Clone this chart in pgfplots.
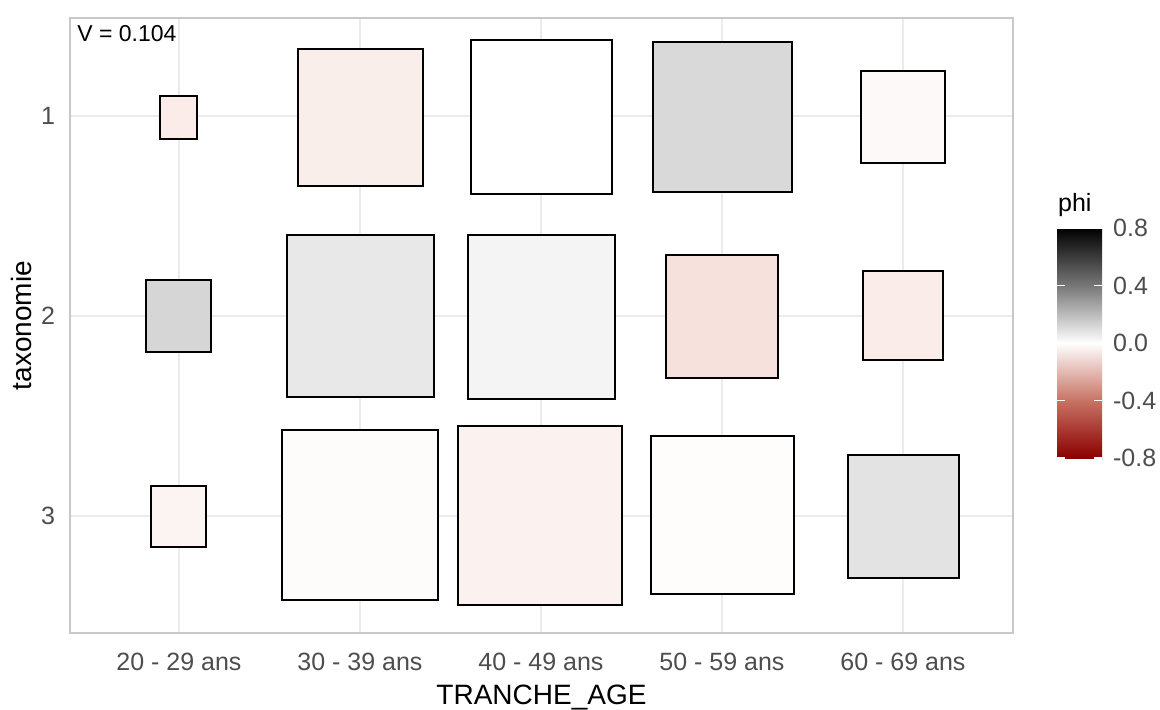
\documentclass[border=0pt]{standalone}
\usepackage{pgfplots}
\pgfplotsset{compat=1.18}
\usepackage{fontspec}
\setmainfont{Liberation Sans}
\definecolor{gridc}{RGB}{235,235,235}
\definecolor{borderc}{RGB}{200,200,200}
\definecolor{tickc}{RGB}{77,77,77}
\definecolor{aa}{RGB}{251,236,233}
\definecolor{ab}{RGB}{250,238,235}
\definecolor{ac}{RGB}{255,255,255}
\definecolor{ad}{RGB}{217,217,217}
\definecolor{ae}{RGB}{253,249,248}
\definecolor{ba}{RGB}{214,214,214}
\definecolor{bb}{RGB}{232,232,232}
\definecolor{bc}{RGB}{244,244,244}
\definecolor{bd}{RGB}{246,225,220}
\definecolor{be}{RGB}{249,236,233}
\definecolor{ca}{RGB}{252,244,242}
\definecolor{cb}{RGB}{254,251,251}
\definecolor{cc}{RGB}{251,241,239}
\definecolor{cd}{RGB}{255,253,252}
\definecolor{ce}{RGB}{227,227,227}
\begin{document}
\begin{tikzpicture}
\useasboundingbox (0,0) rectangle (580pt,354.5pt);
\begin{axis}[
  at={(35pt,38pt)}, anchor=south west,
  scale only axis, width=471.5pt, height=307.5pt,
  xmin=0.398, xmax=5.608, ymin=0.51, ymax=3.585, y dir=reverse,
  xtick={1,2,3,4,5},
  xticklabels={20 - 29 ans,30 - 39 ans,40 - 49 ans,50 - 59 ans,60 - 69 ans},
  ytick={1,2,3},
  /pgf/number format/assume math mode=true,
  major tick length=0pt,
  grid=major, major grid style={color=gridc, line width=0.6pt},
  axis line style={color=borderc, line width=0.6pt},
  tick label style={color=tickc, font=\fontsize{12.5}{14}\selectfont},
  xticklabel style={yshift=-6.5pt},
  yticklabel style={xshift=-4pt},
  xlabel={TRANCHE\_AGE}, ylabel={taxonomie},
  label style={font=\fontsize{14}{16}\selectfont},
  xlabel style={yshift=0pt},
  ylabel style={yshift=-2pt},
  colormap={phi}{rgb255(0cm)=(139,0,0); rgb255(1cm)=(199,115,100); rgb255(2cm)=(255,255,255); rgb255(3cm)=(119,119,119); rgb255(4cm)=(0,0,0)},
  point meta min=-0.8, point meta max=0.8,
  colorbar,
  colorbar/width=22.5pt,
  colorbar style={
    scale only axis,
    at={(parent axis.south west)}, anchor=south west,
    xshift=485pt, yshift=87.5pt,
    height=115pt,
    ytick={-0.8,-0.4,0,0.4,0.8},
    yticklabels={-0.8,-0.4,0.0,0.4,0.8},
    yticklabel pos=right,
    ytick pos=both,
    tick align=inside,
    major tick length=4pt,
    tick style={white, line width=0.8pt},
    axis line style={draw=none},
    yticklabel style={color=tickc, font=\fontsize{12.5}{14}\selectfont, xshift=2pt},
    title={phi},
    title style={at={(0,1)}, anchor=south west, xshift=-3pt, yshift=-4pt, font=\fontsize{12.5}{14}\selectfont},
  },
  every axis plot/.append style={draw=black, line width=0.8pt, line join=miter},
]
% row 1
\addplot[fill=aa] coordinates {(0.895,0.90) (1.099,0.90) (1.099,1.115) (0.895,1.115)} --cycle;
\addplot[fill=ab] coordinates {(1.657,0.665) (2.348,0.665) (2.348,1.35) (1.657,1.35)} --cycle;
\addplot[fill=ac] coordinates {(2.613,0.62) (3.392,0.62) (3.392,1.39) (2.613,1.39)} --cycle;
\addplot[fill=ad] coordinates {(3.619,0.63) (4.387,0.63) (4.387,1.38) (3.619,1.38)} --cycle;
\addplot[fill=ae] coordinates {(4.768,0.775) (5.232,0.775) (5.232,1.235) (4.768,1.235)} --cycle;
% row 2
\addplot[fill=ba] coordinates {(0.818,1.82) (1.177,1.82) (1.177,2.18) (0.818,2.18)} --cycle;
\addplot[fill=bb] coordinates {(1.597,1.595) (2.409,1.595) (2.409,2.405) (1.597,2.405)} --cycle;
\addplot[fill=bc] coordinates {(2.597,1.595) (3.409,1.595) (3.409,2.415) (2.597,2.415)} --cycle;
\addplot[fill=bd] coordinates {(3.691,1.695) (4.309,1.695) (4.309,2.31) (3.691,2.31)} --cycle;
\addplot[fill=be] coordinates {(4.779,1.775) (5.221,1.775) (5.221,2.22) (4.779,2.22)} --cycle;
% row 3
\addplot[fill=ca] coordinates {(0.845,2.85) (1.149,2.85) (1.149,3.155) (0.845,3.155)} --cycle;
\addplot[fill=cb] coordinates {(1.569,2.57) (2.431,2.57) (2.431,3.42) (1.569,3.42)} --cycle;
\addplot[fill=cc] coordinates {(2.541,2.55) (3.448,2.55) (3.448,3.445) (2.541,3.445)} --cycle;
\addplot[fill=cd] coordinates {(3.608,2.60) (4.398,2.60) (4.398,3.39) (3.608,3.39)} --cycle;
\addplot[fill=ce] coordinates {(4.696,2.695) (5.309,2.695) (5.309,3.31) (4.696,3.31)} --cycle;
\node[anchor=north west, inner sep=0pt, font=\fontsize{11.5}{13}\selectfont] at (axis description cs:0.0074,0.988) {V = 0.104};
\end{axis}
\end{tikzpicture}
\end{document}
